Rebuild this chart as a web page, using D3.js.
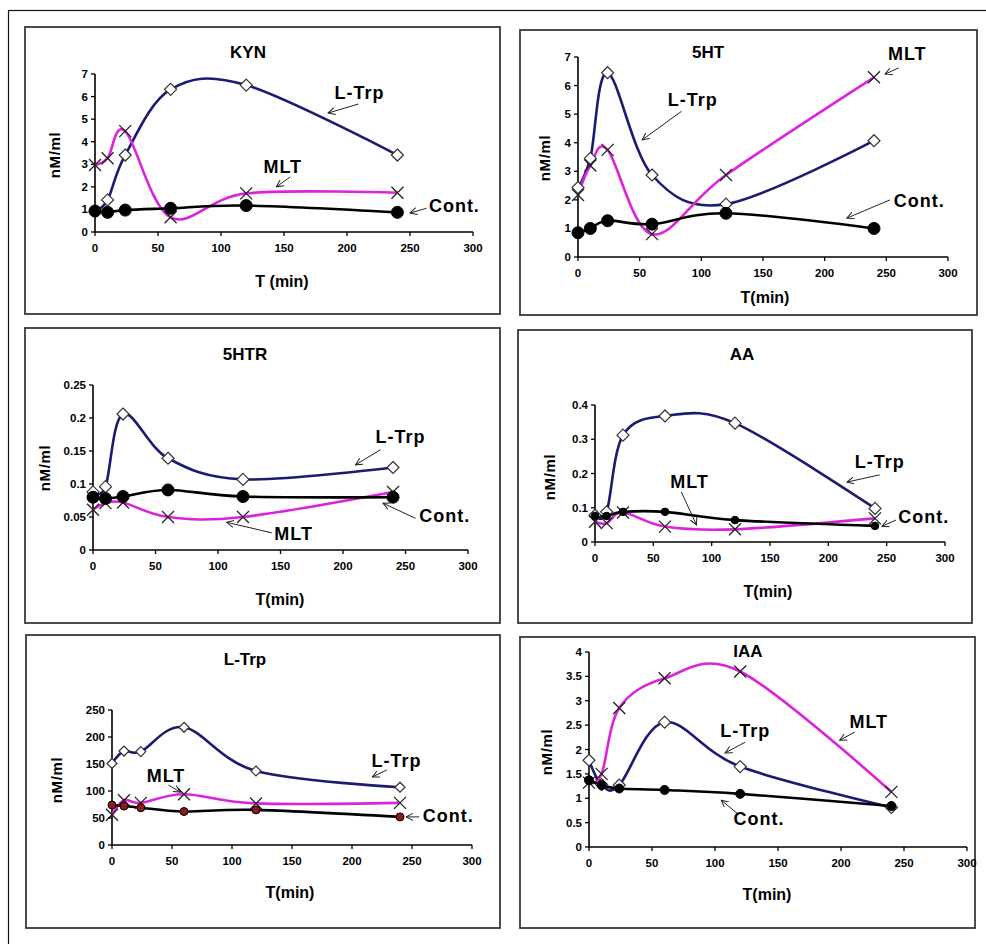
<!DOCTYPE html>
<html>
<head>
  <meta charset="UTF-8">
  <style>
    body {
      margin: 0;
      padding: 0;
      background-color: #fff;
    }
    svg {
      display: block;
      font-family: Arial, "Liberation Sans", sans-serif;
    }
  </style>
</head>
<body>
<svg id="fig" width="986" height="944"></svg>
<script src="https://d3js.org/d3.v7.min.js"></script>
<script>
// sampling times (min)
const times = [0, 10, 24, 60, 120, 240];
const xTicks = [0, 50, 100, 150, 200, 250, 300];

// KYN
const kynLtrp = [0.9, 1.42, 3.41, 6.32, 6.51, 3.41];
const kynMlt  = [2.97, 3.27, 4.47, 0.65, 1.71, 1.74];
const kynCont = [0.93, 0.87, 0.97, 1.05, 1.17, 0.87];

// 5HT
const htLtrp = [2.43, 3.45, 6.45, 2.87, 1.85, 4.07];
const htMlt  = [2.17, 3.2, 3.75, 0.8, 2.87, 6.29];
const htCont = [0.85, 1.0, 1.27, 1.15, 1.53, 1.0];

// 5HTR
const htrLtrp = [0.088, 0.096, 0.206, 0.139, 0.107, 0.125];
const htrMlt  = [0.061, 0.071, 0.072, 0.05, 0.05, 0.088];
const htrCont = [0.08, 0.078, 0.081, 0.091, 0.081, 0.08];

// AA
const aaLtrp = [0.078, 0.088, 0.312, 0.368, 0.347, 0.098];
const aaMlt  = [0.059, 0.055, 0.086, 0.045, 0.037, 0.069];
const aaCont = [0.076, 0.076, 0.088, 0.088, 0.064, 0.047];

// L-Trp
const trpLtrp = [151, 174, 173, 218, 137, 107];
const trpMlt  = [56, 83, 78, 94, 77, 78];
const trpCont = [74, 72, 69, 62, 65, 52];

// IAA
const iaaLtrp = [1.78, 1.28, 1.27, 2.56, 1.65, 0.81];
const iaaMlt  = [1.32, 1.5, 2.85, 3.46, 3.6, 1.13];
const iaaCont = [1.37, 1.27, 1.2, 1.17, 1.09, 0.84];

// labels with arrows, in data units
const kynNotes = [
  {t: "L-Trp", at: [210, 5.9], a: "middle", from: [209, 5.67], to: [185, 5.27]},
  {t: "MLT", at: [149, 2.6], a: "middle", from: [155, 2.44], to: [144, 2.0]},
  {t: "Cont.", at: [265, 0.89], a: "start", from: [263, 1.05], to: [250, 0.84]}
];
const htNotes = [
  {t: "L-Trp", at: [93, 5.3], a: "middle", from: [84, 5.1], to: [52, 4.1]},
  {t: "MLT", at: [267, 6.9], a: "middle", from: [260, 6.62], to: [249, 6.4]},
  {t: "Cont.", at: [256, 1.75], a: "start", from: [253, 2.0], to: [218, 1.36]}
];
const htrNotes = [
  {t: "L-Trp", at: [246, 0.162], a: "middle", from: [230, 0.152], to: [210, 0.129]},
  {t: "Cont.", at: [261, 0.042], a: "start", from: [258, 0.048], to: [232, 0.071]},
  {t: "MLT", at: [145, 0.015], a: "start", from: [143, 0.026], to: [107, 0.042]}
];
const aaNotes = [
  {t: "L-Trp", at: [244, 0.216], a: "middle", from: [244, 0.196], to: [216, 0.175]},
  {t: "MLT", at: [81, 0.158], a: "middle", from: [74, 0.146], to: [87, 0.05]},
  {t: "Cont.", at: [260, 0.055], a: "start", from: [258, 0.064], to: [246, 0.046]}
];
const trpNotes = [
  {t: "L-Trp", at: [237, 144], a: "middle", from: [229, 139], to: [217, 126]},
  {t: "MLT", at: [45, 117], a: "middle", from: [47, 111], to: [57, 98]},
  {t: "Cont.", at: [259, 43], a: "start", from: [256, 52], to: [245, 52]}
];
const iaaNotes = [
  {t: "L-Trp", at: [124, 2.26], a: "middle", from: [124, 2.15], to: [108, 1.93]},
  {t: "MLT", at: [222, 2.44], a: "middle", from: [211, 2.36], to: [199, 2.19]},
  {t: "Cont.", at: [135, 0.45], a: "middle", from: [119, 0.66], to: [105, 0.96]}
];

const NAVY = "#1b1b72", MAGENTA = "#dd22dd";

// panel layout: box [x,y,w,h], x range of 0..300, y range of 0..ymax
const panels = [
  {title: "KYN", box: [25, 27, 475, 287], x: [95, 473], y: [232, 74], ymax: 7, ystep: 1,
   titleAt: [248, 58], xlab: "T (min)", xlabAt: [282, 287], ylabAt: [55, 155],
   data: [kynLtrp, kynMlt, kynCont], cont: {r: 6, fill: "#000"}, dia: 6, notes: kynNotes},
  {title: "5HT", box: [520, 30, 457, 285], x: [578, 948], y: [257, 57], ymax: 7, ystep: 1,
   titleAt: [708, 58], xlab: "T(min)", xlabAt: [765, 303], ylabAt: [545, 158],
   data: [htLtrp, htMlt, htCont], cont: {r: 6, fill: "#000"}, dia: 6, notes: htNotes},
  {title: "5HTR", box: [25, 328, 475, 295], x: [93, 468], y: [550, 385], ymax: 0.25, ystep: 0.05,
   titleAt: [245, 360], xlab: "T(min)", xlabAt: [280, 605], ylabAt: [45, 468],
   data: [htrLtrp, htrMlt, htrCont], cont: {r: 6, fill: "#000"}, dia: 6, notes: htrNotes},
  {title: "AA", box: [518, 330, 454, 293], x: [595, 945], y: [542, 405], ymax: 0.4, ystep: 0.1,
   titleAt: [742, 360], xlab: "T(min)", xlabAt: [768, 597], ylabAt: [550, 477],
   data: [aaLtrp, aaMlt, aaCont], cont: {r: 3.8, fill: "#000"}, dia: 6, notes: aaNotes},
  {title: "L-Trp", box: [26, 635, 474, 293], x: [112, 472], y: [845, 710], ymax: 250, ystep: 50,
   titleAt: [245, 665], xlab: "T(min)", xlabAt: [290, 898], ylabAt: [57, 780],
   data: [trpLtrp, trpMlt, trpCont], cont: {r: 4, fill: "#8b1a1a"}, dia: 5, notes: trpNotes},
  {title: "IAA", box: [520, 637, 455, 291], x: [589, 967], y: [847, 652], ymax: 4, ystep: 0.5,
   titleAt: [748, 657], xlab: "T(min)", xlabAt: [767, 900], ylabAt: [547, 752],
   data: [iaaLtrp, iaaMlt, iaaCont], cont: {r: 4.5, fill: "#000"}, dia: 6, notes: iaaNotes}
];

let svg = d3.select("#fig");

svg.append("defs").append("marker")
    .attr("id", "arrow")
    .attr("viewBox", "0 0 8 8")
    .attr("refX", 7).attr("refY", 4)
    .attr("markerWidth", 8).attr("markerHeight", 8)
    .attr("markerUnits", "userSpaceOnUse")
    .attr("orient", "auto")
  .append("path")
    .attr("d", "M0,0.5 L7,4 L0,7.5")
    .attr("fill", "none")
    .attr("stroke", "#222")
    .attr("stroke-width", 1);

// outer frame
svg.append("rect")
    .attr("x", 8.5).attr("y", 10.5)
    .attr("width", 1000).attr("height", 1000)
    .attr("fill", "none")
    .attr("stroke", "#111")
    .attr("stroke-width", 1.2);

panels.forEach(p => {
    let g = svg.append("g");

    g.append("rect")
        .attr("x", p.box[0]).attr("y", p.box[1])
        .attr("width", p.box[2]).attr("height", p.box[3])
        .attr("fill", "#fff")
        .attr("stroke", "#3a3a3a")
        .attr("stroke-width", 1.8);

    let x = d3.scaleLinear().domain([0, 300]).range(p.x);
    let y = d3.scaleLinear().domain([0, p.ymax]).range(p.y);

    // axes
    let yTicks = d3.range(0, p.ymax + p.ystep / 2, p.ystep).map(v => +v.toFixed(3));

    g.append("line")
        .attr("x1", p.x[0]).attr("x2", p.x[0])
        .attr("y1", p.y[0]).attr("y2", p.y[1])
        .attr("stroke", "#000").attr("stroke-width", 1.6);
    g.append("line")
        .attr("x1", p.x[0]).attr("x2", p.x[1])
        .attr("y1", p.y[0]).attr("y2", p.y[0])
        .attr("stroke", "#000").attr("stroke-width", 1.6);

    g.selectAll(".yt").data(yTicks).enter().append("line")
        .attr("x1", p.x[0] - 4).attr("x2", p.x[0])
        .attr("y1", d => y(d)).attr("y2", d => y(d))
        .attr("stroke", "#000").attr("stroke-width", 1.3);
    g.selectAll(".ytl").data(yTicks).enter().append("text")
        .attr("x", p.x[0] - 7)
        .attr("y", d => y(d) + 4)
        .attr("text-anchor", "end")
        .attr("font-size", 11.5).attr("font-weight", "bold")
        .text(d => String(d));

    g.selectAll(".xt").data(xTicks).enter().append("line")
        .attr("x1", d => x(d)).attr("x2", d => x(d))
        .attr("y1", p.y[0]).attr("y2", p.y[0] + 4)
        .attr("stroke", "#000").attr("stroke-width", 1.3);
    g.selectAll(".xtl").data(xTicks).enter().append("text")
        .attr("x", d => x(d))
        .attr("y", p.y[0] + 20)
        .attr("text-anchor", "middle")
        .attr("font-size", 11.5).attr("font-weight", "bold")
        .text(d => d);

    // titles
    g.append("text")
        .attr("x", p.titleAt[0]).attr("y", p.titleAt[1])
        .attr("text-anchor", "middle")
        .attr("font-size", 17).attr("font-weight", "bold")
        .text(p.title);
    g.append("text")
        .attr("x", p.xlabAt[0]).attr("y", p.xlabAt[1])
        .attr("text-anchor", "middle")
        .attr("font-size", 16).attr("font-weight", "bold")
        .text(p.xlab);
    g.append("text")
        .attr("transform", `translate(${p.ylabAt[0] + 5},${p.ylabAt[1]}) rotate(-90)`)
        .attr("text-anchor", "middle")
        .attr("font-size", 15).attr("font-weight", "bold")
        .attr("letter-spacing", 0.6)
        .text("nM/ml");

    // series lines: L-Trp, MLT, Cont.
    let line = d3.line()
        .x((d, i) => x(times[i]))
        .y(d => y(d))
        .curve(d3.curveCatmullRom.alpha(0));
    let colors = [NAVY, MAGENTA, "#000"];

    p.data.forEach((vals, k) => {
        g.append("path")
            .attr("d", line(vals))
            .attr("fill", "none")
            .attr("stroke", colors[k])
            .attr("stroke-width", 2.6);
    });

    // markers
    let s = p.dia;
    g.selectAll(".dia").data(p.data[0]).enter().append("path")
        .attr("d", (d, i) => {
            let cx = x(times[i]), cy = y(d);
            return `M${cx},${cy - s} L${cx + s},${cy} L${cx},${cy + s} L${cx - s},${cy} Z`;
        })
        .attr("fill", "#fff")
        .attr("stroke", "#333")
        .attr("stroke-width", 1.2);

    g.selectAll(".xm").data(p.data[1]).enter().append("path")
        .attr("d", (d, i) => {
            let cx = x(times[i]), cy = y(d), h = 6;
            return `M${cx - h},${cy - h} L${cx + h},${cy + h} M${cx - h},${cy + h} L${cx + h},${cy - h}`;
        })
        .attr("fill", "none")
        .attr("stroke", "#222")
        .attr("stroke-width", 1.3);

    g.selectAll(".ct").data(p.data[2]).enter().append("circle")
        .attr("cx", (d, i) => x(times[i]))
        .attr("cy", d => y(d))
        .attr("r", p.cont.r)
        .attr("fill", p.cont.fill)
        .attr("stroke", "#000")
        .attr("stroke-width", 1);

    // labels with arrows
    p.notes.forEach(n => {
        g.append("line")
            .attr("x1", x(n.from[0])).attr("y1", y(n.from[1]))
            .attr("x2", x(n.to[0])).attr("y2", y(n.to[1]))
            .attr("stroke", "#222")
            .attr("stroke-width", 1)
            .attr("marker-end", "url(#arrow)");
        g.append("text")
            .attr("x", x(n.at[0])).attr("y", y(n.at[1]))
            .attr("text-anchor", n.a)
            .attr("font-size", 18).attr("font-weight", "bold")
            .attr("letter-spacing", 1)
            .text(n.t);
    });
});
</script>
</body>
</html>
